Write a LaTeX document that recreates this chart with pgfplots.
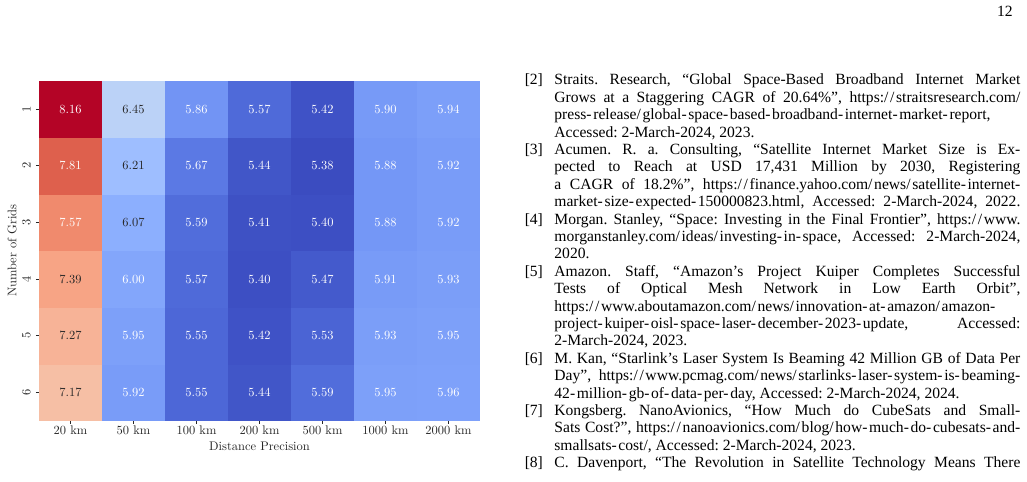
\documentclass[border=0pt]{standalone}
\usepackage{fontspec}
\usepackage{pgfplots}
\usepackage{pgfplotstable}
\pgfplotsset{compat=1.18}
\newfontfamily\timesfont{Liberation Serif}
\newfontfamily\lmten{lmroman10-regular.otf}
\newcommand\reffont{\timesfont\fontsize{8}{9}\selectfont\frenchspacing}
\newcommand\hmfont{\lmten\fontsize{6.4}{7.7}\selectfont}
\definecolor{annodark}{RGB}{38,38,38}
\def\H{-\kern0.85pt}
\def\S{/\kern0.85pt}

\pgfplotsset{colormap={coolwarm}{
rgb255=(59,76,192) rgb255=(68,90,204) rgb255=(77,104,215) rgb255=(87,117,225)
rgb255=(98,130,234) rgb255=(108,142,241) rgb255=(119,154,247) rgb255=(130,165,251)
rgb255=(141,176,254) rgb255=(152,185,255) rgb255=(163,194,255) rgb255=(174,201,253)
rgb255=(184,208,249) rgb255=(194,213,244) rgb255=(204,217,238) rgb255=(213,219,230)
rgb255=(221,221,221) rgb255=(229,216,209) rgb255=(236,211,197) rgb255=(241,204,184)
rgb255=(245,196,172) rgb255=(247,187,160) rgb255=(247,177,148) rgb255=(247,166,135)
rgb255=(244,154,123) rgb255=(241,141,111) rgb255=(236,127,99) rgb255=(229,112,88)
rgb255=(222,96,77) rgb255=(213,80,66) rgb255=(203,62,56) rgb255=(192,40,47)
rgb255=(180,4,38)}}

% y = 7 - (number of grids), so that grid 1 is at the top
\pgfplotstableread{
x y v
0 1 7.17
1 1 5.92
2 1 5.55
3 1 5.44
4 1 5.59
5 1 5.95
6 1 5.96
0 2 7.27
1 2 5.95
2 2 5.55
3 2 5.42
4 2 5.53
5 2 5.93
6 2 5.95
0 3 7.39
1 3 6.00
2 3 5.57
3 3 5.40
4 3 5.47
5 3 5.91
6 3 5.93
0 4 7.57
1 4 6.07
2 4 5.59
3 4 5.41
4 4 5.40
5 4 5.88
6 4 5.92
0 5 7.81
1 5 6.21
2 5 5.67
3 5 5.44
4 5 5.38
5 5 5.88
6 5 5.92
0 6 8.16
1 6 6.45
2 6 5.86
3 6 5.57
4 6 5.42
5 6 5.90
6 6 5.94
}\heatdata

\pgfplotstableread{
x y l
0 6 8.16
0 5 7.81
0 4 7.57
1 3 6.00
1 2 5.95
1 1 5.92
2 6 5.86
2 5 5.67
2 4 5.59
2 3 5.57
2 2 5.55
2 1 5.55
3 6 5.57
3 5 5.44
3 4 5.41
3 3 5.40
3 2 5.42
3 1 5.44
4 6 5.42
4 5 5.38
4 4 5.40
4 3 5.47
4 2 5.53
4 1 5.59
5 6 5.90
5 5 5.88
5 4 5.88
5 3 5.91
5 2 5.93
5 1 5.95
6 6 5.94
6 5 5.92
6 4 5.92
6 3 5.93
6 2 5.95
6 1 5.96
}\whitelabels

\pgfplotstableread{
x y l
0 3 7.39
0 2 7.27
0 1 7.17
1 6 6.45
1 5 6.21
1 4 6.07
}\darklabels

% reference lines: #1 line index, #2 content
\newcommand\RL[2]{\node[anchor=base west, inner sep=0pt, font=\reffont] at (284.3pt,{203.72pt-#1*8.929pt}) {#2};}
\newcommand\RJ[2]{\node[anchor=base west, inner sep=0pt, font=\reffont] at (284.3pt,{203.72pt-#1*8.929pt}) {\makebox[239.1pt][s]{#2}};}
\newcommand\RLab[2]{\node[anchor=base east, inner sep=0pt, font=\reffont] at (278.8pt,{203.72pt-#1*8.929pt}) {#2};}

\begin{document}
\begin{tikzpicture}
\path[use as bounding box] (0,0) rectangle (527pt,247.3pt);

\begin{axis}[
  at={(20.01pt,31.46pt)}, anchor=south west,
  scale only axis, width=226.3pt, height=174.3pt,
  xmin=-0.5, xmax=6.5, ymin=0.5, ymax=6.5,
  enlargelimits=false,
  axis line style={draw=none},
  xtick={0,...,6},
  xticklabels={20 km,50 km,100 km,200 km,500 km,1000 km,2000 km},
  ytick={1,...,6},
  yticklabels={6,5,4,3,2,1},
  tick align=outside, major tick length=1.54pt,
  xtick pos=left, ytick pos=left,
  tick style={line width=0.4pt, color=annodark},
  font=\hmfont,
  tick label style={font=\hmfont, text=annodark},
  xticklabel style={yshift=2.6pt},
  yticklabel style={rotate=90, anchor=south, yshift=-0.8pt},
  xlabel={Distance Precision}, ylabel={Number of Grids},
  every axis x label/.style={at={(axis description cs:0.5,0)}, anchor=base, yshift=-15.5pt, font=\hmfont, text=annodark},
  every axis y label/.style={at={(axis description cs:-0.0612,0.5)}, rotate=90, anchor=center, font=\hmfont, text=annodark},
  colormap name=coolwarm, point meta min=5.38, point meta max=8.16,
]
\addplot[matrix plot*, mesh/cols=7, point meta=explicit] table[x=x,y=y,meta=v] {\heatdata};
\addplot[only marks, mark=none, nodes near coords, point meta=explicit symbolic,
  every node near coord/.append style={anchor=center, text=white, font=\hmfont}]
  table[x=x,y=y,meta=l] {\whitelabels};
\addplot[only marks, mark=none, nodes near coords, point meta=explicit symbolic,
  every node near coord/.append style={anchor=center, text=annodark, font=\hmfont}]
  table[x=x,y=y,meta=l] {\darklabels};
\end{axis}

\node[anchor=base east, inner sep=0pt, font=\reffont] at (519.8pt,238.6pt) {12};

\RLab{0}{[2]}
\RJ{0}{Straits. Research, “Global Space-Based Broadband Internet Market}
\RJ{1}{Grows at a Staggering CAGR of 20.64\%”, https:\S\S straitsresearch.com/}
\RL{2}{press\H release\S global\H space\H based\H broadband\H internet\H market\H report,}
\RL{3}{Accessed: 2-March-2024, 2023.}
\RLab{4}{[3]}
\RJ{4}{Acumen. R. a. Consulting, “Satellite Internet Market Size is Ex-}
\RJ{5}{pected to Reach at USD 17,431 Million by 2030, Registering}
\RJ{6}{a CAGR of 18.2\%”, https:\S\S finance.yahoo.com\S news\S satellite\H internet-}
\RJ{7}{market\H size\H expected\H 150000823.html, Accessed: 2-March-2024, 2022.}
\RLab{8}{[4]}
\RJ{8}{Morgan. Stanley, “Space: Investing in the Final Frontier”, https:\S\S www.}
\RJ{9}{morganstanley.com\S ideas\S investing\H in\H space, Accessed: 2-March-2024,}
\RL{10}{2020.}
\RLab{11}{[5]}
\RJ{11}{Amazon. Staff, “Amazon’s Project Kuiper Completes Successful}
\RJ{12}{Tests of Optical Mesh Network in Low Earth Orbit”,}
\RL{13}{https:\S\S www.aboutamazon.com\S news\S innovation\H at\H amazon\S amazon-}
\RJ{14}{project\H kuiper\H oisl\H space\H laser\H december\H 2023\H update, Accessed:}
\RL{15}{2-March-2024, 2023.}
\RLab{16}{[6]}
\RJ{16}{M. Kan, “Starlink’s Laser System Is Beaming 42 Million GB of Data Per}
\RJ{17}{Day”, https:\S\S www.pcmag.com\S news\S starlinks\H laser\H system\H is\H beaming-}
\RL{18}{42\H million\H gb\H of\H data\H per\H day, Accessed: 2-March-2024, 2024.}
\RLab{19}{[7]}
\RJ{19}{Kongsberg. NanoAvionics, “How Much do CubeSats and Small-}
\RJ{20}{Sats Cost?”, https:\S\S nanoavionics.com\S blog\S how\H much\H do\H cubesats\H and-}
\RL{21}{smallsats\H cost/, Accessed: 2-March-2024, 2023.}
\RLab{22}{[8]}
\RJ{22}{C. Davenport, “The Revolution in Satellite Technology Means There}
\end{tikzpicture}
\end{document}
